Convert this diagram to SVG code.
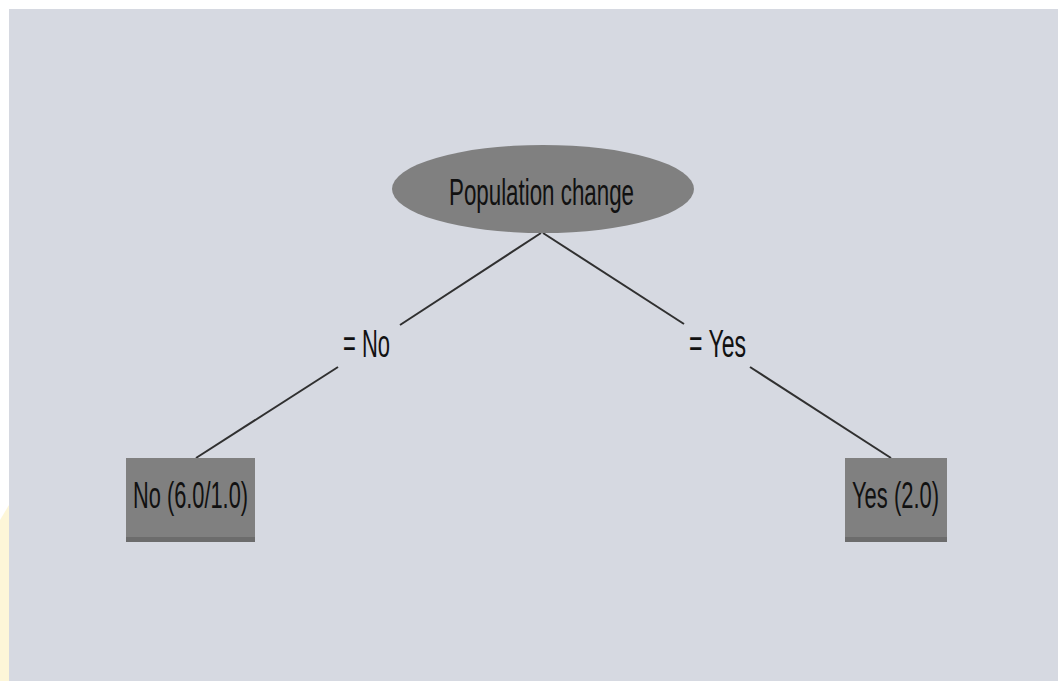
<svg xmlns="http://www.w3.org/2000/svg" width="1058" height="681" viewBox="0 0 1058 681">
  <style>
    .node { fill: #808080; }
    .edge { stroke: #303030; stroke-width: 2; fill: none; }
    .t { font-family: "Liberation Sans", Arial, sans-serif; fill: #111; font-size: 37px; }
    .lbl { font-family: "Liberation Sans", Arial, sans-serif; fill: #111; font-size: 38px; }
  </style>
  <rect x="0" y="0" width="1058" height="681" fill="#ffffff"/>
  <polygon points="0,520 9,505 9,681 0,681" fill="#fdf6d8"/>
  <rect x="9" y="9" width="1049" height="672" fill="#d6d9e1"/>
  <g id="connectors">
    <line class="edge" x1="541" y1="233" x2="400" y2="325"/>
    <line class="edge" x1="338" y1="367" x2="196" y2="458"/>
    <line class="edge" x1="543" y1="233" x2="684" y2="324"/>
    <line class="edge" x1="750" y1="367" x2="891" y2="458"/>
    <text class="lbl" x="343" y="357" textLength="47" lengthAdjust="spacingAndGlyphs">= No</text>
    <text class="lbl" x="689" y="357" textLength="57" lengthAdjust="spacingAndGlyphs">= Yes</text>
  </g>
  <g id="root">
    <ellipse class="node" cx="543" cy="189" rx="151" ry="44"/>
    <text class="t" x="449" y="205" textLength="185" lengthAdjust="spacingAndGlyphs">Population change</text>
  </g>
  <g id="leaf-no">
    <rect class="node" x="126" y="458" width="129" height="84"/>
    <rect x="126" y="537" width="129" height="5" fill="#6c6c6c"/>
    <text class="t" x="133" y="508" textLength="115" lengthAdjust="spacingAndGlyphs">No (6.0/1.0)</text>
  </g>
  <g id="leaf-yes">
    <rect class="node" x="845" y="458" width="102" height="84"/>
    <rect x="845" y="537" width="102" height="5" fill="#6c6c6c"/>
    <text class="t" x="852" y="508" textLength="87" lengthAdjust="spacingAndGlyphs">Yes (2.0)</text>
  </g>
</svg>
